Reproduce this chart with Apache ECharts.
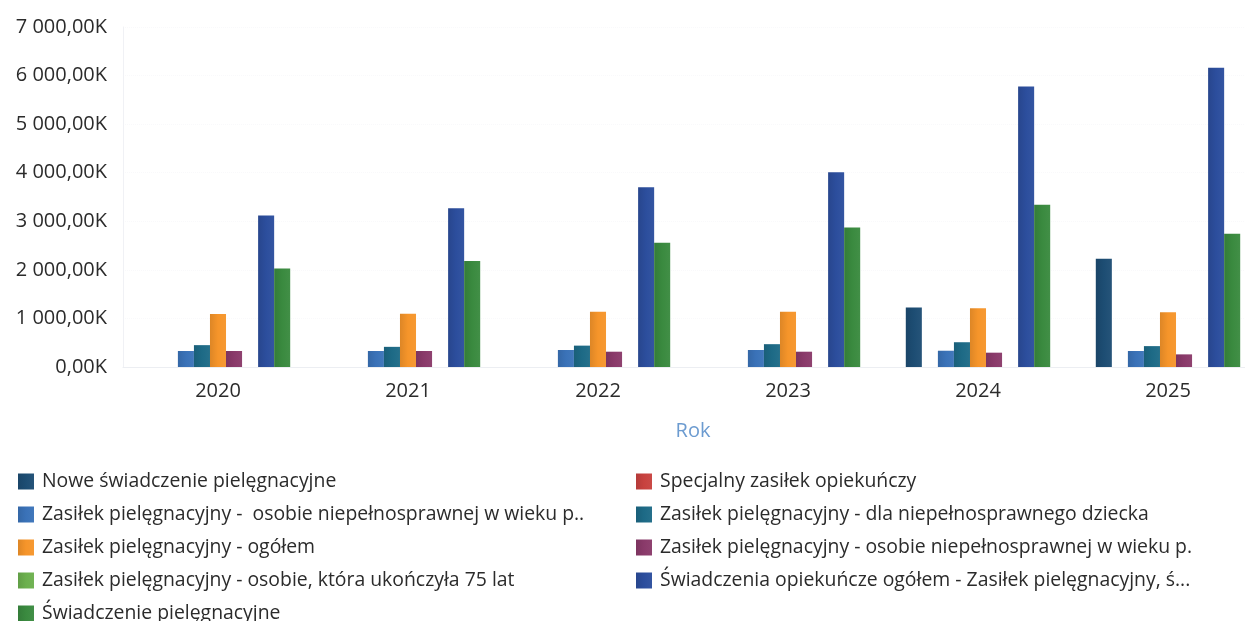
<!DOCTYPE html>
<html>
<head>
<meta charset="utf-8">
<script src="https://cdn.jsdelivr.net/npm/echarts@6/dist/echarts.min.js"></script>
<style>
  html, body { margin: 0; padding: 0; background: #ffffff; overflow: hidden; }
  #chart { width: 1263px; height: 621px; }
</style>
</head>
<body>
<div id="chart"></div>
<script>
// Years on the category axis
const years = ['2020', '2021', '2022', '2023', '2024', '2025'];

// Values in thousands (K)
const noweSwiadczenie      = [null, null, null, null, 1225, 2230];
const specjalnyZasilek     = [null, null, null, null, null, null];
const zasilekWiekuP2       = [330, 330, 350, 350, 335, 330];
const zasilekDziecko       = [450, 415, 440, 470, 510, 430];
const zasilekOgolem        = [1090, 1095, 1135, 1135, 1210, 1125];
const zasilekWiekuP1       = [330, 330, 315, 315, 295, 260];
const zasilek75            = [null, null, null, null, null, null];
const swiadczeniaOgolem    = [3120, 3270, 3700, 4010, 5775, 6160];
const swiadczeniePiel      = [2030, 2180, 2560, 2870, 3340, 2745];

const yTicks = [0, 1000, 2000, 3000, 4000, 5000, 6000, 7000];

const names = [
  'Nowe świadczenie pielęgnacyjne',
  'Specjalny zasiłek opiekuńczy',
  'Zasiłek pielęgnacyjny -  osobie niepełnosprawnej w wieku p..',
  'Zasiłek pielęgnacyjny - dla niepełnosprawnego dziecka',
  'Zasiłek pielęgnacyjny - ogółem',
  'Zasiłek pielęgnacyjny - osobie niepełnosprawnej w wieku p.',
  'Zasiłek pielęgnacyjny - osobie, która ukończyła 75 lat',
  'Świadczenia opiekuńcze ogółem - Zasiłek pielęgnacyjny, ś...',
  'Świadczenie pielęgnacyjne'
];
const values = [noweSwiadczenie, specjalnyZasilek, zasilekWiekuP2, zasilekDziecko,
  zasilekOgolem, zasilekWiekuP1, zasilek75, swiadczeniaOgolem, swiadczeniePiel];
const colors = ['#1d4d73', '#c8423f', '#3a72b8', '#1d6a86', '#f6952a',
  '#8a3a6a', '#6cb04e', '#2c4e9d', '#3a8a3f'];

function shade(hex, f) {
  const n = parseInt(hex.slice(1), 16);
  const ch = [(n >> 16) & 255, (n >> 8) & 255, n & 255].map(c =>
    Math.max(0, Math.min(255, Math.round(f < 0 ? c * (1 + f) : c + (255 - c) * f))));
  return 'rgb(' + ch.join(',') + ')';
}
function barFill(hex) {
  return new echarts.graphic.LinearGradient(0, 0, 1, 0, [
    { offset: 0, color: shade(hex, -0.1) },
    { offset: 0.5, color: hex },
    { offset: 1, color: shade(hex, 0.04) }
  ]);
}

function fmtK(v) {
  const s = Math.round(v).toString().replace(/\B(?=(\d{3})+(?!\d))/g, ' ');
  return s + ',00K';
}

const font = '"Open Sans", "Noto Sans", sans-serif';

const series = names.map((n, i) => ({
  name: n,
  type: 'bar',
  data: values[i],
  barGap: '0%',
  barCategoryGap: '24%',
  itemStyle: { color: barFill(colors[i]) }
}));

const legendStyle = {
  orient: 'vertical',
  top: 467,
  height: 170,
  itemWidth: 16,
  itemHeight: 16,
  itemGap: 14,
  icon: 'rect',
  textStyle: { fontFamily: font, fontSize: 19.4, color: '#2b2b2b', lineHeight: 19, padding: [0, 0, 0, 3] }
};

// the drawing area runs a little past the right edge of the window
const chart = echarts.init(document.getElementById('chart'), null, { renderer: 'canvas' });
chart.setOption({
  animation: false,
  backgroundColor: '#ffffff',
  color: colors,
  grid: { left: 123, top: 27, right: 0, height: 340, containLabel: false },
  legend: [
    Object.assign({ left: 13, data: [names[0], names[2], names[4], names[6], names[8]] }, legendStyle),
    Object.assign({ left: 631, data: [names[1], names[3], names[5], names[7]] }, legendStyle)
  ],
  xAxis: {
    type: 'category',
    data: years,
    name: 'Rok',
    nameLocation: 'middle',
    nameGap: 54,
    nameTextStyle: { fontFamily: font, fontSize: 20, color: '#6c9bd0' },
    axisLine: { show: true, lineStyle: { color: '#eceef2', width: 1 } },
    axisTick: { show: false },
    axisLabel: { fontFamily: font, fontSize: 20, color: '#2b2b2b', margin: 14 }
  },
  yAxis: {
    type: 'value',
    min: yTicks[0],
    max: yTicks[yTicks.length - 1],
    interval: 1000,
    axisLine: { show: true, lineStyle: { color: '#f0f1f5', width: 1 } },
    axisTick: { show: false },
    splitLine: { show: true, lineStyle: { color: '#f9f9fb', type: 'dotted' } },
    axisLabel: { fontFamily: font, fontSize: 20, color: '#2b2b2b', margin: 16, formatter: fmtK }
  },
  series: series
});
</script>
</body>
</html>
